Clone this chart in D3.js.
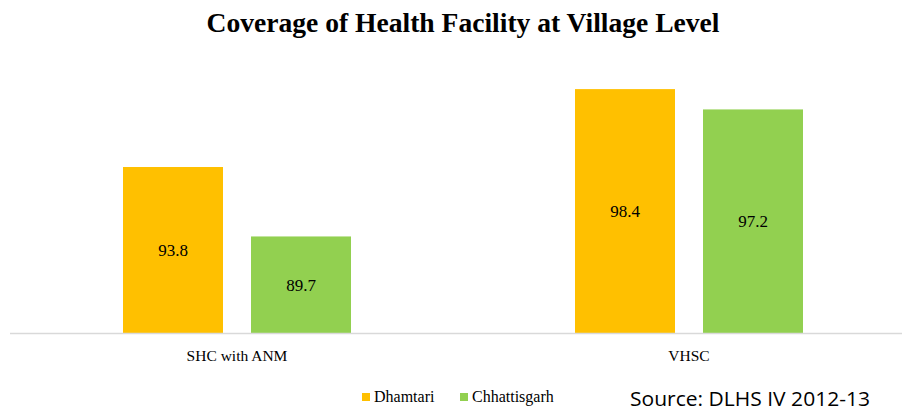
<!DOCTYPE html>
<html>
<head>
<meta charset="utf-8">
<script src="https://cdn.jsdelivr.net/npm/d3@7"></script>
<style>
  body { margin: 0; background: #fff; }
  svg text { fill: #000; }
</style>
</head>
<body>
<div class="canvas"></div>
<script>
/* Coverage of health facility chart */

var categories = ["SHC with ANM", "VHSC"];
var seriesNames = ["Dhamtari", "Chhattisgarh"];
var dhamtari = [93.8, 98.4];
var chhattisgarh = [89.7, 97.2];
var colors = ["#FFC000", "#92D050"];

var W = 902, H = 412;
var svg = d3.select('.canvas')
    .append('svg')
    .attr('width', W)
    .attr('height', H);

// title
svg.append('text')
    .attr('x', 463)
    .attr('y', 32)
    .attr('text-anchor', 'middle')
    .attr('textLength', 513)
    .attr('lengthAdjust', 'spacingAndGlyphs')
    .style('font-family', 'Liberation Serif, serif')
    .style('font-weight', 'bold')
    .style('font-size', '27px')
    .text('Coverage of Health Facility at Village Level');

var x0 = d3.scaleBand().domain(categories).range([11, 915]);
var x1 = d3.scaleBand().domain(seriesNames)
    .range([0, x0.bandwidth()])
    .paddingInner(0.21875)
    .paddingOuter(0.875);
var y = d3.scaleLinear().domain([84, 100]).range([333, 62]);

var rows = categories.map(function(c, i) {
    return {cat: c, values: [dhamtari[i], chhattisgarh[i]]};
});

var group = svg.append('g').selectAll('.grp')
    .data(rows)
    .enter()
    .append('g')
    .attr('class', 'grp')
    .attr('transform', function(d) { return 'translate(' + x0(d.cat) + ',0)'; });

var bar = group.selectAll('.bar')
    .data(function(d) {
        return d.values.map(function(v, j) { return {name: seriesNames[j], value: v, j: j}; });
    })
    .enter()
    .append('g')
    .attr('class', 'bar');

bar.append('rect')
    .attr('x', function(d) { return x1(d.name); })
    .attr('y', function(d) { return y(d.value); })
    .attr('width', x1.bandwidth())
    .attr('height', function(d) { return y.range()[0] - y(d.value); })
    .style('fill', function(d) { return colors[d.j]; });

bar.append('text')
    .attr('x', function(d) { return x1(d.name) + x1.bandwidth() / 2; })
    .attr('y', function(d) { return (y(d.value) + y.range()[0]) / 2 + 6; })
    .attr('text-anchor', 'middle')
    .style('font-family', 'Liberation Serif, serif')
    .style('font-size', '17px')
    .text(function(d) { return d.value; });

// x axis
var axis = svg.append('g')
    .attr('transform', 'translate(0,' + 333 + ')')
    .call(d3.axisBottom(x0).tickSize(0).tickPadding(17));
axis.select('.domain').remove();
axis.append('line')
    .attr('x1', 10).attr('x2', 902)
    .attr('y1', 0.5).attr('y2', 0.5)
    .style('stroke', '#d9d9d9')
    .style('stroke-width', 1.5);
axis.selectAll('text')
    .style('font-family', 'Liberation Serif, serif')
    .style('font-size', '15.5px')
    .style('fill', '#000');

// legend
var legendX = [362, 460];
var legend = svg.append('g').selectAll('.leg')
    .data(seriesNames)
    .enter()
    .append('g')
    .attr('class', 'leg')
    .attr('transform', function(d, i) { return 'translate(' + legendX[i] + ',393)'; });
legend.append('rect')
    .attr('width', 8).attr('height', 8)
    .style('fill', function(d, i) { return colors[i]; });
legend.append('text')
    .attr('x', 12)
    .attr('y', 9)
    .style('font-family', 'Liberation Serif, serif')
    .style('font-size', '16px')
    .text(function(d) { return d; });

// source
svg.append('text')
    .attr('x', 630)
    .attr('y', 406)
    .attr('textLength', 240)
    .attr('lengthAdjust', 'spacingAndGlyphs')
    .style('font-family', 'Open Sans, sans-serif')
    .style('font-size', '20px')
    .text('Source: DLHS IV 2012-13');
</script>
</body>
</html>
